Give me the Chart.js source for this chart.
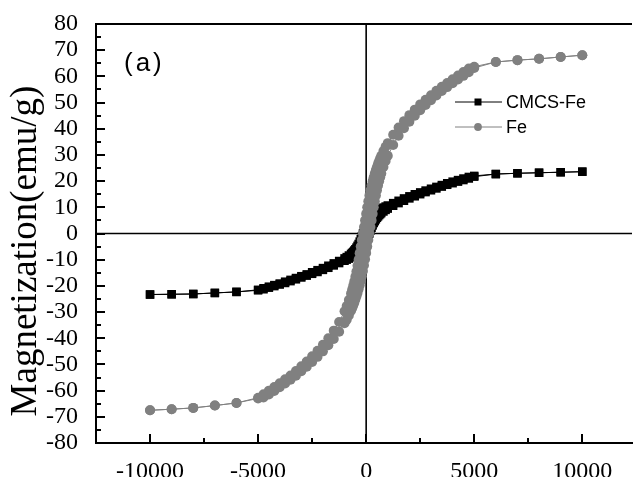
<!DOCTYPE html>
<html>
<head>
<meta charset="utf-8">
<script src="https://cdn.jsdelivr.net/npm/chart.js@4/dist/chart.umd.min.js"></script>
<style>
	html, body { margin: 0; padding: 0; background: #fff; overflow: hidden; }
	#wrap { width: 638px; height: 477px; }
</style>
</head>
<body>
<div id="wrap"><canvas id="hyst" width="638" height="477"></canvas></div>
<script>
//applied field (Oe), descending branch of the loop: +10000 -> -10000
const fieldDown = [10000, 9000, 8000, 7000, 6000,
	5000, 4750, 4500, 4250, 4000, 3750, 3500, 3250, 3000, 2750, 2500, 2250, 2000, 1750, 1500, 1250, 1000,
	900, 800, 700, 650, 600, 550, 500, 450, 400, 350, 300, 250, 200, 150, 100, 50, 0,
	-50, -100, -150, -200, -250, -300, -350, -400, -450, -500, -550, -600, -650, -700, -800, -900,
	-1000, -1250, -1500, -1750, -2000, -2250, -2500, -2750, -3000, -3250, -3500, -3750, -4000, -4250, -4500, -4750, -5000,
	-6000, -7000, -8000, -9000, -10000];

//applied field (Oe), ascending branch of the loop: -10000 -> +10000
const fieldUp = [-10000, -9000, -8000, -7000, -6000,
	-5000, -4750, -4500, -4250, -4000, -3750, -3500, -3250, -3000, -2750, -2500, -2250, -2000, -1750, -1500, -1250, -1000,
	-900, -800, -700, -650, -600, -550, -500, -450, -400, -350, -300, -250, -200, -150, -100, -50, 0,
	50, 100, 150, 200, 250, 300, 350, 400, 450, 500, 550, 600, 650, 700, 800, 900,
	1000, 1250, 1500, 1750, 2000, 2250, 2500, 2750, 3000, 3250, 3500, 3750, 4000, 4250, 4500, 4750, 5000,
	6000, 7000, 8000, 9000, 10000];

//CMCS-Fe magnetization (emu/g)
const cmcsDown = [23.6, 23.4, 23.2, 23.0, 22.7,
	22.0, 21.6, 21.0, 20.4, 19.8, 19.2, 18.5, 17.8, 17.1, 16.4, 15.7, 15.0, 14.2, 13.4, 12.5, 11.6, 10.7,
	10.3, 9.9, 9.5, 9.2, 9.0, 8.7, 8.4, 8.1, 7.8, 7.4, 7.0, 6.5, 6.0, 5.4, 4.7, 4.0, 3.1,
	2.2, 1.1, 0, -1.1, -2.2, -3.1, -4.0, -4.7, -5.4, -6.0, -6.5, -7.0, -7.4, -7.8, -8.4, -9.0,
	-9.5, -10.5, -11.4, -12.3, -13.2, -14.0, -14.8, -15.6, -16.3, -17.0, -17.7, -18.4, -19.1, -19.7, -20.3, -20.9, -21.5,
	-22.3, -22.7, -23.1, -23.2, -23.3];

const cmcsUp = [-23.3, -23.2, -23.1, -22.7, -22.3,
	-21.7, -21.3, -20.7, -20.1, -19.5, -18.9, -18.2, -17.5, -16.8, -16.1, -15.4, -14.7, -13.9, -13.1, -12.2, -11.3, -10.4,
	-10.0, -9.6, -9.1, -8.9, -8.6, -8.3, -8.0, -7.7, -7.3, -6.9, -6.5, -6.0, -5.5, -5.0, -4.3, -3.6, -2.9,
	-2.1, -1.1, 0, 1.1, 2.2, 3.1, 4.0, 4.7, 5.4, 6.0, 6.5, 7.0, 7.4, 7.8, 8.4, 9.0,
	9.5, 10.6, 11.6, 12.5, 13.4, 14.2, 15.0, 15.8, 16.5, 17.2, 17.9, 18.6, 19.2, 19.8, 20.4, 21.0, 21.7,
	22.7, 23.0, 23.2, 23.4, 23.6];

//Fe magnetization (emu/g)
const feDown = [68.1, 67.4, 66.7, 66.2, 65.5,
	63.7, 63.0, 61.7, 60.3, 58.9, 57.5, 56.0, 54.5, 52.8, 51.1, 49.3, 47.3, 45.2, 42.9, 40.5, 37.7, 34.5,
	33.1, 31.5, 29.7, 28.7, 27.7, 26.6, 25.4, 24.2, 22.9, 21.5, 20.0, 18.3, 16.5, 14.5, 12.3, 10.0, 7.5,
	5.0, 2.5, 0, -2.5, -5.0, -7.5, -10.0, -12.3, -14.5, -16.5, -18.3, -20.0, -21.5, -22.9, -25.4, -27.7,
	-29.7, -33.8, -37.1, -40.0, -42.5, -44.8, -46.9, -48.9, -50.7, -52.5, -54.2, -55.7, -57.2, -58.6, -60.0, -61.4, -62.7,
	-64.7, -65.7, -66.6, -67.1, -67.5];

const feUp = [-67.5, -67.1, -66.6, -65.7, -64.7,
	-63.0, -62.6, -61.5, -60.1, -58.7, -57.3, -55.8, -54.3, -52.6, -50.9, -49.1, -47.1, -45.0, -42.7, -40.3, -37.5, -34.3,
	-32.9, -31.3, -29.5, -28.5, -27.5, -26.4, -25.2, -24.0, -22.7, -21.3, -19.8, -18.1, -16.3, -14.3, -12.1, -9.8, -7.4,
	-5.0, -2.5, 0, 2.5, 5.0, 7.5, 10.0, 12.3, 14.5, 16.5, 18.3, 20.0, 21.5, 22.9, 25.4, 27.7,
	29.7, 33.8, 37.3, 40.2, 42.7, 45.0, 47.1, 49.1, 50.9, 52.7, 54.4, 55.9, 57.4, 58.8, 60.2, 61.6, 63.2,
	65.5, 66.2, 66.7, 67.4, 68.1];

const xTickLabels = [-10000, -5000, 0, 5000, 10000];
const seriesNames = ['CMCS-Fe', 'Fe'];
const yTitle = 'Magnetization(emu/g)';
const panelLabel = '(a)';

const SERIF = "'Liberation Serif', 'Times New Roman', serif";
const SANS = "'Liberation Sans', Arial, sans-serif";
const GREY = '#808080';

//joins both branches into one loop of {x, y} points
function buildLoop(values1, values2) {
	let points = [];
	fieldDown.forEach((h, i) => points.push({ x: h, y: values1[i] }));
	fieldUp.forEach((h, i) => points.push({ x: h, y: values2[i] }));
	return points;
}

//zero lines, inward ticks, top frame, axis title, legend and panel label
const decorations = {
	id: 'decorations',
	beforeDatasetsDraw(chart) {
		const ctx = chart.ctx;
		const area = chart.chartArea;
		const xs = chart.scales.x;
		const ys = chart.scales.y;
		ctx.save();
		ctx.strokeStyle = '#000';
		ctx.lineWidth = 1.6;
		ctx.beginPath();
		ctx.moveTo(area.left, ys.getPixelForValue(0));
		ctx.lineTo(area.right, ys.getPixelForValue(0));
		ctx.moveTo(xs.getPixelForValue(0), area.top);
		ctx.lineTo(xs.getPixelForValue(0), area.bottom);
		ctx.stroke();
		ctx.restore();
	},
	afterDatasetsDraw(chart) {
		const ctx = chart.ctx;
		const area = chart.chartArea;
		const xs = chart.scales.x;
		const ys = chart.scales.y;
		ctx.save();
		ctx.strokeStyle = '#000';
		ctx.lineWidth = 2;

		//top frame line
		ctx.beginPath();
		ctx.moveTo(area.left - 1, area.top);
		ctx.lineTo(area.right, area.top);
		ctx.stroke();

		//y ticks every 5, long on labelled ones
		ctx.beginPath();
		for (let v = ys.min; v <= ys.max; v += 5) {
			const len = v % 10 === 0 ? 9 : 5;
			const py = Math.round(ys.getPixelForValue(v));
			ctx.moveTo(area.left, py);
			ctx.lineTo(area.left + len, py);
		}

		//x ticks every 2500, long on labelled ones
		for (let v = -10000; v <= 10000; v += 2500) {
			const len = v % 5000 === 0 ? 9 : 5;
			const px = Math.round(xs.getPixelForValue(v));
			ctx.moveTo(px, area.bottom);
			ctx.lineTo(px, area.bottom - len);
		}
		ctx.stroke();
		ctx.restore();
	},
	afterDraw(chart) {
		const ctx = chart.ctx;
		ctx.save();

		//y axis title, rotated, sitting a bit below the plot centre like the original
		ctx.save();
		ctx.translate(36, 251);
		ctx.rotate(-Math.PI / 2);
		ctx.fillStyle = '#000';
		ctx.font = '37px ' + SERIF;
		ctx.textAlign = 'center';
		ctx.textBaseline = 'alphabetic';
		ctx.fillText(yTitle, 0, 0);
		ctx.restore();

		//panel label
		ctx.fillStyle = '#000';
		ctx.font = '26px ' + SANS;
		ctx.textBaseline = 'middle';
		ctx.letterSpacing = '3px';
		ctx.fillText(panelLabel, 124, 64);
		ctx.letterSpacing = '0px';

		//legend
		const rows = [
			{ name: seriesNames[0], color: '#000', style: 'rect', y: 102 },
			{ name: seriesNames[1], color: GREY, style: 'circle', y: 127 }
		];
		rows.forEach(row => {
			ctx.strokeStyle = row.color;
			ctx.fillStyle = row.color;
			ctx.lineWidth = 1;
			ctx.beginPath();
			ctx.moveTo(455, row.y);
			ctx.lineTo(502, row.y);
			ctx.stroke();
			if (row.style === 'rect') {
				ctx.fillRect(478 - 3.5, row.y - 3.5, 7, 7);
			} else {
				ctx.beginPath();
				ctx.arc(478, row.y, 3.9, 0, Math.PI * 2);
				ctx.fill();
			}
			ctx.fillStyle = '#000';
			ctx.font = '18px ' + SANS;
			ctx.textBaseline = 'middle';
			ctx.fillText(row.name, 506, row.y + 1);
		});
		ctx.restore();
	}
};

function drawChart() {
	const ctx = document.getElementById('hyst').getContext('2d');

	new Chart(ctx, {
		type: 'scatter',
		data: {
			datasets: [
				{
					label: seriesNames[0],
					data: buildLoop(cmcsDown, cmcsUp),
					showLine: true,
					borderColor: '#000',
					borderWidth: 1,
					backgroundColor: '#000',
					pointStyle: 'rect',
					pointRadius: 6,
					pointBorderWidth: 0,
					order: 2
				},
				{
					label: seriesNames[1],
					data: buildLoop(feDown, feUp),
					showLine: true,
					borderColor: GREY,
					borderWidth: 1,
					backgroundColor: GREY,
					pointStyle: 'circle',
					pointRadius: 5,
					pointBorderWidth: 0,
					order: 1
				}
			]
		},
		options: {
			responsive: false,
			animation: false,
			devicePixelRatio: 1,
			layout: { padding: { top: 24, right: 0, left: 0, bottom: 0 } },
			plugins: {
				legend: { display: false },
				tooltip: { enabled: false }
			},
			scales: {
				x: {
					type: 'linear',
					min: -12500,
					max: 12300,
					grid: { display: false },
					border: { display: true, color: '#000', width: 2 },
					afterBuildTicks: scale => {
						scale.ticks = xTickLabels.map(v => ({ value: v }));
					},
					afterFit: scale => { scale.height = 34; },
					ticks: {
						color: '#000',
						font: { family: SERIF, size: 24 },
						padding: 6,
						maxRotation: 0,
						autoSkip: false,
						callback: value => String(value)
					}
				},
				y: {
					min: -80,
					max: 80,
					grid: { display: false },
					border: { display: true, color: '#000', width: 2 },
					afterFit: scale => { scale.width = 96; },
					ticks: {
						stepSize: 10,
						autoSkip: false,
						color: '#000',
						font: { family: SERIF, size: 24, lineHeight: 1 },
						padding: 10
					}
				}
			}
		},
		plugins: [decorations]
	});
}

drawChart();
</script>
</body>
</html>
